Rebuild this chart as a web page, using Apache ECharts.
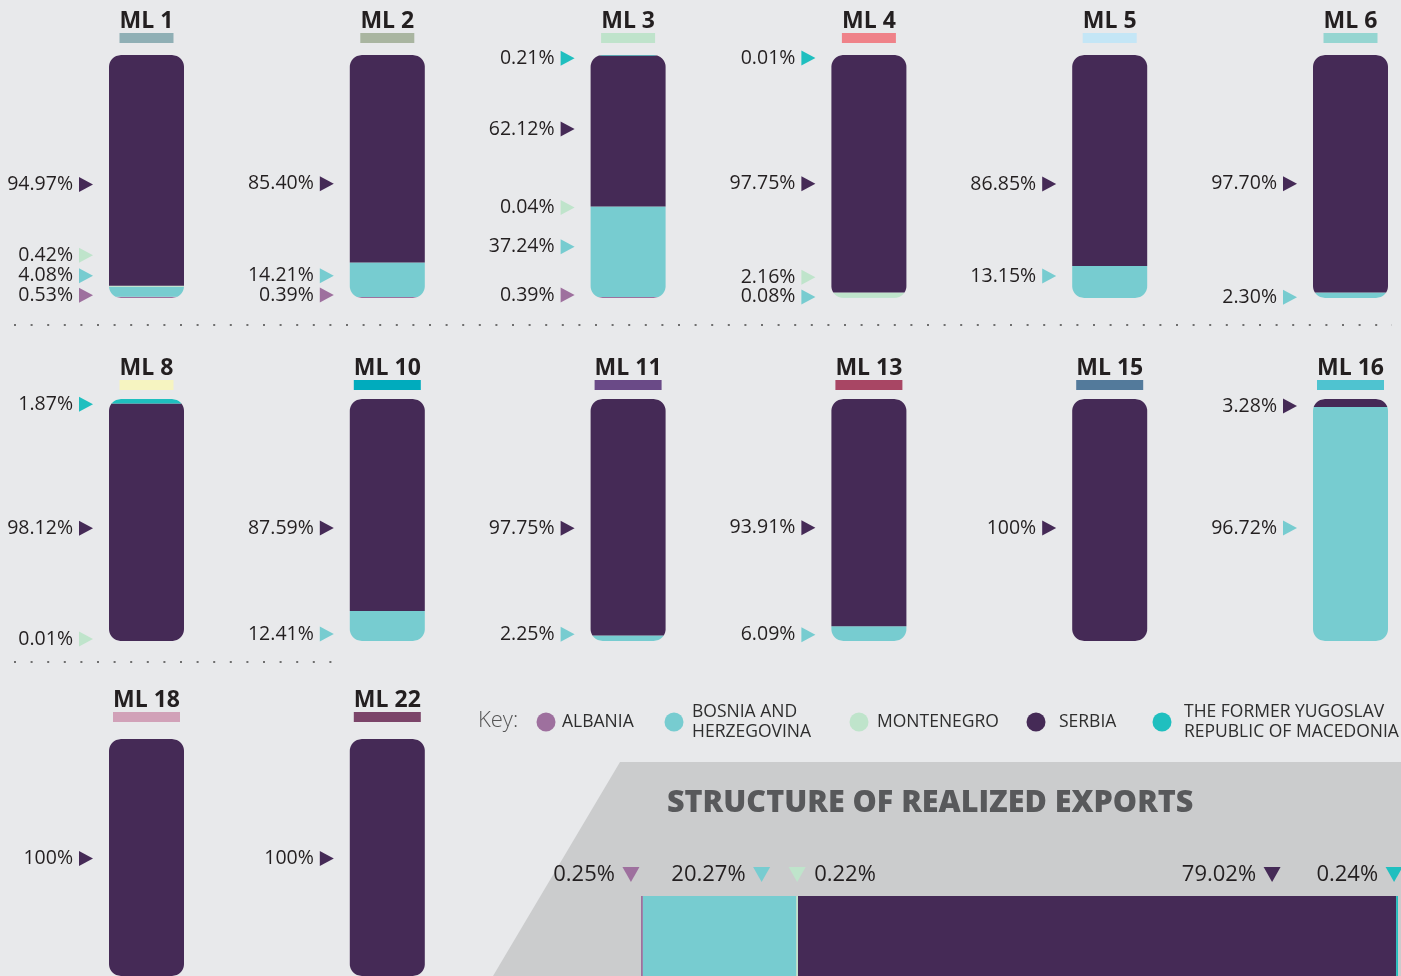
<!DOCTYPE html>
<html>
<head>
<meta charset="utf-8">
<title>Structure of realized exports</title>
<script src="https://cdn.jsdelivr.net/npm/echarts@6/dist/echarts.min.js"></script>
<style>
html, body { margin: 0; padding: 0; background: #e8e9eb; }
#chart { width: 1401px; height: 976px; }
</style>
</head>
<body>
<div id="chart"></div>
<script>
// share of each country per line (%)
const lines = ['ML 1', 'ML 2', 'ML 3', 'ML 4', 'ML 5', 'ML 6', 'ML 8', 'ML 10', 'ML 11', 'ML 13', 'ML 15', 'ML 16', 'ML 18', 'ML 22']
const albania = [0.53, 0.39, 0.39, 0, 0, 0, 0, 0, 0, 0, 0, 0, 0, 0]
const bosnia = [4.08, 14.21, 37.24, 0.08, 13.15, 2.30, 0, 12.41, 2.25, 6.09, 0, 96.72, 0, 0]
const montenegro = [0.42, 0, 0.04, 2.16, 0, 0, 0.01, 0, 0, 0, 0, 0, 0, 0]
const serbia = [94.97, 85.40, 62.12, 97.75, 86.85, 97.70, 98.12, 87.59, 97.75, 93.91, 100, 3.28, 100, 100]
const macedonia = [0, 0, 0.21, 0.01, 0, 0, 1.87, 0, 0, 0, 0, 0, 0, 0]
// structure of realized exports, same country order
const exportShare = [0.25, 20.27, 0.22, 79.02, 0.24]

const countries = ['ALBANIA', 'BOSNIA AND\nHERZEGOVINA', 'MONTENEGRO', 'SERBIA', 'THE FORMER YUGOSLAV\nREPUBLIC OF MACEDONIA']
const shares = [albania, bosnia, montenegro, serbia, macedonia] // stacked bottom -> top

// styles / layout
const FONT = '"Open Sans", sans-serif'
const TEXT = '#231f20'
const palette = ['#9e709e', '#77ccd0', '#bfe4cb', '#452a56', '#1fbfbf']
const lineColors = ['#8fafb5', '#a9b5a0', '#bfe3cb', '#ef8289', '#c4e6f6', '#95d5d1', '#f6f4c1',
  '#00abbd', '#6a4a87', '#a84664', '#537a9b', '#4fc3d0', '#d1a1b8', '#7b4469']
const colOf = [0, 1, 2, 3, 4, 5, 0, 1, 2, 3, 4, 5, 0, 1]
const rowOf = [0, 0, 0, 0, 0, 0, 1, 1, 1, 1, 1, 1, 2, 2]
const rowTop = [55, 399, 739]
const rowHeight = [243, 242, 243]
const titleMargin = [12, 9, 17]
const barWidth = 75
const radius = 12
// label nudges (px) so small pieces don't overlap, per line / country
const labelShift = [
  [-3, -17, -32, 13, 0],
  [-3.5, -5, 0, 24, 0],
  [-3.5, -6, 0, -3, 2],
  [0, -2, -19, 9, 2],
  [0, -7, 0, 22.5, 0],
  [0, 1, 0, 9, 0],
  [0, 0, -3, 5, 2],
  [0, 7, 0, 22, 0],
  [0, -5, 0, 10, 0],
  [0, 0, 0, 14, 0],
  [0, 0, 0, 7, 0],
  [0, 3, 0, 2, 0],
  [0, 0, 0, 0, 0],
  [0, 0, 0, 0, 0]
]
// export labels: triangle offset from piece centre, text side
const exportLabel = [{ dx: -11, side: 'left' }, { dx: 42, side: 'left' }, { dx: 0, side: 'right' },
  { dx: 175, side: 'left' }, { dx: -3, side: 'left' }]

function fmt(v) {
  return (Number.isInteger(v) ? v : v.toFixed(2)) + '%'
}

const measureCtx = document.createElement('canvas').getContext('2d')
function textWidth(text, font) {
  measureCtx.font = font
  return measureCtx.measureText(text).width
}

// inset of the rounded outline at height y
function insetAt(y, yTop, yBot, r) {
  let d
  if (y < yTop + r) d = yTop + r - y
  else if (y > yBot - r) d = y - (yBot - r)
  else return 0
  d = Math.min(d, r)
  return r - Math.sqrt(r * r - d * d)
}

// piece of a rounded column between ya (upper) and yb (lower)
function slicePoints(x0, x1, yTop, yBot, ya, yb) {
  const ys = [ya]
  for (let y = Math.floor(ya) + 1; y < yb; y++) ys.push(y)
  ys.push(yb)
  const left = ys.map(y => [x0 + insetAt(y, yTop, yBot, radius), y])
  const right = ys.slice().reverse().map(y => [x1 - insetAt(y, yTop, yBot, radius), y])
  return left.concat(right)
}

function columnPiece(api, color, dy) {
  const from = api.value(1)
  const to = api.value(2)
  const val = api.value(3)
  const base = api.coord([0, 0])
  const top = api.coord([0, 100])
  const bw = api.size([1, 0])[0]
  const x0 = base[0] - bw / 2
  const x1 = x0 + bw
  const ya = api.coord([0, to])[1]
  const yb = api.coord([0, from])[1]
  const yc = (ya + yb) / 2 + dy + 1
  return {
    type: 'group',
    children: [
      { type: 'polygon', shape: { points: slicePoints(x0, x1, top[1], base[1], ya, yb) }, style: { fill: color } },
      { type: 'polygon', shape: { points: [[x0 - 30, yc - 7.5], [x0 - 16, yc], [x0 - 30, yc + 7.5]] }, style: { fill: color } },
      { type: 'text', x: x0 - 36, y: yc, style: { text: fmt(val), align: 'right', verticalAlign: 'middle', font: '19.5px ' + FONT, fill: TEXT } }
    ]
  }
}

function exportPiece(api, color, lab) {
  const from = api.value(1)
  const to = api.value(2)
  const val = api.value(3)
  const pl = api.coord([from, 0])
  const pr = api.coord([to, 0])
  const bh = api.size([0, 1])[1]
  const yTop = pl[1] - bh / 2
  const tx = (pl[0] + pr[0]) / 2 + lab.dx
  const ty = yTop - 21.5
  const textX = lab.side === 'left' ? tx - 16 : tx + 17
  return {
    type: 'group',
    children: [
      { type: 'rect', shape: { x: pl[0], y: yTop, width: pr[0] - pl[0], height: bh }, style: { fill: color } },
      { type: 'polygon', shape: { points: [[tx - 8.5, ty - 7.5], [tx + 8.5, ty - 7.5], [tx, ty + 7.5]] }, style: { fill: color } },
      { type: 'text', x: textX, y: ty, style: { text: fmt(val), align: lab.side === 'left' ? 'right' : 'left', verticalAlign: 'middle', font: '22px ' + FONT, fill: TEXT } }
    ]
  }
}

const grid = []
const xAxis = []
const yAxis = []
const series = []
const titleFont = 'bold 23px ' + FONT

lines.forEach((name, i) => {
  grid.push({ left: 109 + colOf[i] * 240.8, top: rowTop[rowOf[i]], width: barWidth, height: rowHeight[rowOf[i]] })
  xAxis.push({
    gridIndex: i,
    type: 'category',
    data: [name],
    position: 'top',
    axisLine: { show: false },
    axisTick: { show: false },
    axisLabel: {
      margin: titleMargin[rowOf[i]],
      formatter: v => '{t|' + v + '}\n{u|}',
      rich: {
        t: { fontFamily: FONT, fontSize: 23, fontWeight: 'bold', color: TEXT, lineHeight: 24 },
        u: { backgroundColor: lineColors[i], width: Math.round(textWidth(name, titleFont)), height: 10 }
      }
    }
  })
  yAxis.push({ gridIndex: i, type: 'value', min: 0, max: 100, show: false })

  let below = 0
  shares.forEach((arr, c) => {
    const v = arr[i]
    if (!v) return
    const from = below
    below += v
    series.push({
      type: 'custom',
      name: countries[c],
      xAxisIndex: i,
      yAxisIndex: i,
      silent: true,
      itemStyle: { color: palette[c] },
      encode: { x: 0, y: [1, 2] },
      data: [[0, from, below, v]],
      renderItem: (params, api) => columnPiece(api, palette[c], labelShift[i][c])
    })
  })
})

// horizontal bar for overall exports
const ex = lines.length
grid.push({ left: 641, top: 896, width: 757, height: 160 })
xAxis.push({ gridIndex: ex, type: 'value', min: 0, max: 100, show: false })
yAxis.push({ gridIndex: ex, type: 'category', data: ['Exports'], show: false })
let acc = 0
exportShare.forEach((v, c) => {
  const from = acc
  acc += v
  series.push({
    type: 'custom',
    name: countries[c],
    xAxisIndex: ex,
    yAxisIndex: ex,
    silent: true,
    itemStyle: { color: palette[c] },
    encode: { x: [1, 2], y: 0 },
    data: [[0, from, acc, v]],
    renderItem: (params, api) => exportPiece(api, palette[c], exportLabel[c])
  })
})

// key: circle centre and text start for each entry
const keyCenter = [546, 674, 859, 1036, 1162]
const keyText = [562, 692, 877, 1059, 1184]
const legend = countries.map((name, c) => ({
  data: [name],
  left: keyCenter[c] - 9.5,
  top: name.includes('\n') ? 702 : 712,
  padding: 0,
  icon: 'circle',
  itemWidth: 19,
  itemHeight: 19,
  selectedMode: false,
  textStyle: {
    fontFamily: FONT,
    fontSize: 17.5,
    color: '#2e2e2e',
    lineHeight: 20,
    padding: [0, 0, 0, Math.max(0, keyText[c] - keyCenter[c] - 14.5)]
  }
}))

const dots = { stroke: '#6f6f6f', lineWidth: 2, lineDash: [2, 14.6] }

const chart = echarts.init(document.getElementById('chart'))
chart.setOption({
  backgroundColor: '#e8e9eb',
  animation: false,
  grid,
  xAxis,
  yAxis,
  legend,
  series,
  graphic: [
    { type: 'polygon', z: -1, shape: { points: [[620, 762], [1401, 762], [1401, 976], [493, 976]] }, style: { fill: '#cbcccd' } },
    { type: 'line', shape: { x1: 14, y1: 325, x2: 1392, y2: 325 }, style: dots },
    { type: 'line', shape: { x1: 14, y1: 662, x2: 332, y2: 662 }, style: dots },
    { type: 'text', x: 478, y: 721, style: { text: 'Key:', font: '300 22px ' + FONT, fill: '#555', verticalAlign: 'middle' } },
    { type: 'text', x: 667, y: 803, style: { text: 'STRUCTURE OF REALIZED EXPORTS', font: '800 30.5px ' + FONT, fill: '#58595b', verticalAlign: 'middle' } }
  ]
})
</script>
</body>
</html>
